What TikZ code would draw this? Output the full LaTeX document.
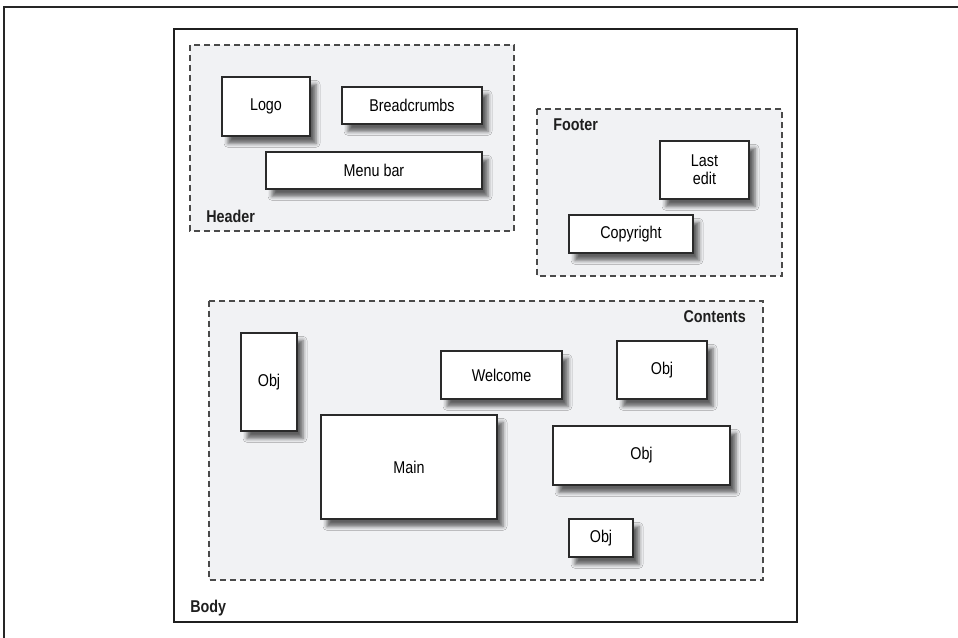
\documentclass[tikz,border=0pt]{standalone}
\usepackage{fontspec}
\setmainfont[FakeStretch=0.84]{Liberation Sans}
\usetikzlibrary{shadows.blur}
\definecolor{areafill}{HTML}{F1F2F4}
\definecolor{dashcol}{HTML}{4A4A4A}
\definecolor{boxline}{HTML}{2A2A2A}
\tikzset{
  area/.style={draw=dashcol, fill=areafill, line width=0.8pt, dash pattern=on 4.5pt off 3pt},
  obj/.style={draw=boxline, fill=white, line width=1pt, inner sep=0pt, align=center,
    font=\fontsize{12.8}{14}\selectfont,
    blur shadow={shadow xshift=4.5pt, shadow yshift=-5.5pt, shadow blur radius=3pt, shadow opacity=60}},
  lbl/.style={inner sep=0pt, font=\fontsize{12.8}{14}\selectfont\bfseries, text=black!88}
}
\begin{document}
\begin{tikzpicture}[x=0.75pt, y=-0.75pt]
\useasboundingbox (0,0) rectangle (958,638);
% outer frame (top and left)
\draw[line width=0.8pt, black!85] (958,7) -- (4,7) -- (4,638);
% body
\draw[line width=2.2pt, black!88] (174,29) rectangle (797,622);
\node[lbl, anchor=west] (body) at (190,608) {Body};
% containers
\draw[area] (190,45) rectangle (514,231);
\draw[area] (537,109) rectangle (782,276);
\draw[area] (209,301) rectangle (763,580);
\node[lbl, anchor=west] (header) at (206,216) {Header};
\node[lbl, anchor=west] (footer) at (553,125) {Footer};
\node[lbl, anchor=east] (contents) at (746,317) {Contents};
% header items
\node[obj, minimum width=66pt, minimum height=44.25pt] (logo) at (266,106.5) {Logo};
\node[obj, minimum width=105pt, minimum height=27.75pt] (crumbs) at (412,105.5) {Breadcrumbs};
\node[obj, minimum width=162pt, minimum height=27.75pt] (menu) at (374,170.5) {Menu bar};
% footer items
\node[obj, minimum width=66.75pt, minimum height=43.5pt] (lastedit) at (704.5,170) {Last\\[-0.5pt]edit};
\node[obj, minimum width=93pt, minimum height=28.5pt] (copy) at (631,234) {Copyright};
% contents items
\node[obj, minimum width=42pt, minimum height=73.5pt] (obja) at (269,382) {Obj};
\node[obj, minimum width=132pt, minimum height=78pt] (main) at (409,467) {Main};
\node[obj, minimum width=90.75pt, minimum height=36pt] (welcome) at (501.5,375) {Welcome};
\node[obj, minimum width=67.5pt, minimum height=43.5pt] (objb) at (662,370) {Obj};
\node[obj, minimum width=132.75pt, minimum height=44.25pt] (objc) at (641.5,455.5) {Obj};
\node[obj, minimum width=48pt, minimum height=28.5pt] (objd) at (601,538) {Obj};
\end{tikzpicture}
\end{document}
